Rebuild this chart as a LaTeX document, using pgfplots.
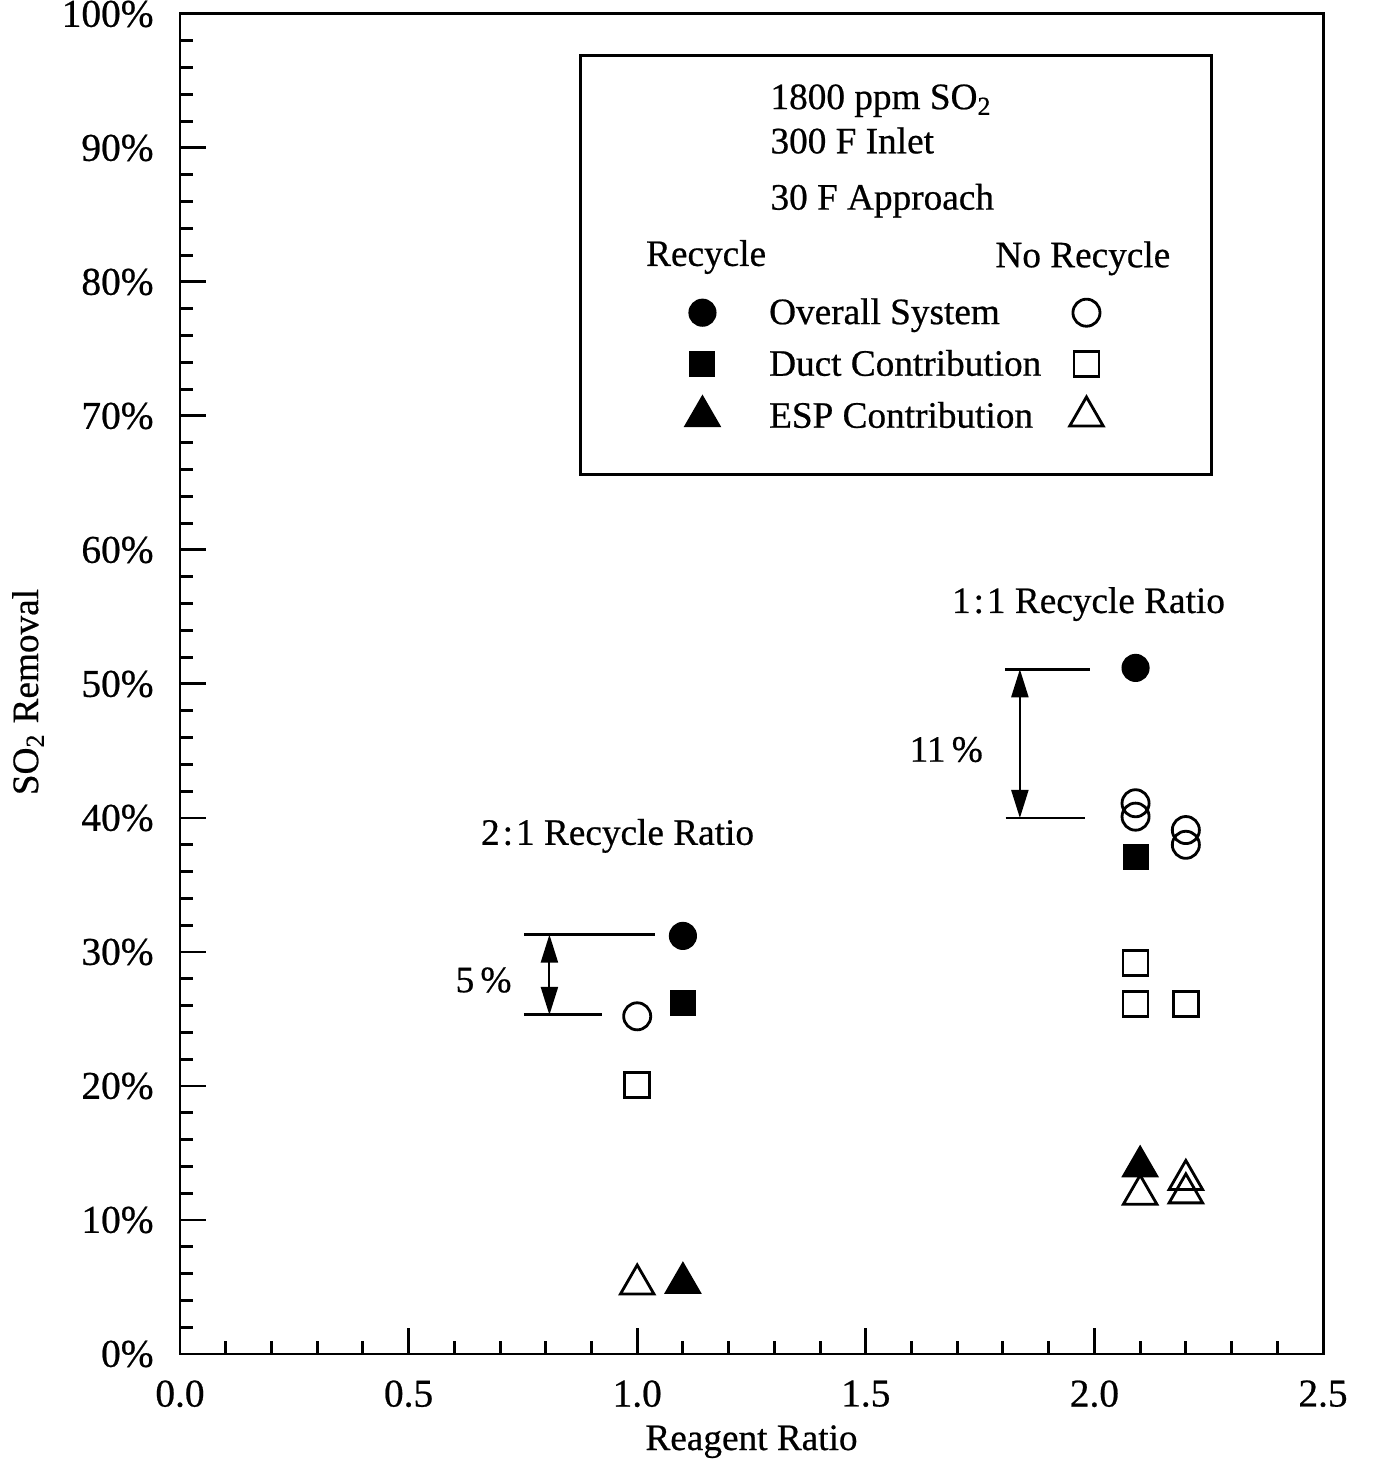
\documentclass[border=0pt]{standalone}
\usepackage{fontspec}
\setmainfont{Liberation Serif}[FakeBold=0.6]
\usepackage{pgfplots}
\pgfplotsset{compat=1.18}
\usetikzlibrary{arrows.meta}

\pgfplotstableread{
x y
1.10 31.2
2.09 51.2
}\recOverall
\pgfplotstableread{
x y
1.00 25.2
2.09 41.1
2.09 40.1
2.20 39.1
2.20 38.0
}\norecOverall
\pgfplotstableread{
x y
1.10 26.2
2.09 37.1
}\recDuct
\pgfplotstableread{
x y
1.00 20.1
2.09 29.2
2.09 26.1
2.20 26.1
}\norecDuct
\pgfplotstableread{
x y
1.10 5.3
2.10 14.0
}\recESP
\pgfplotstableread{
x y
1.00 5.2
2.10 11.9
2.20 13.0
2.20 12.0
}\norecESP

\begin{document}
\begin{tikzpicture}[font=\fontsize{10.6}{12.6}\selectfont]
\begin{axis}[
  name=ax,
  scale only axis,
  width=11.43cm, height=13.40cm,
  xmin=0, xmax=2.5, ymin=0, ymax=100,
  axis line style={line width=0.85pt},
  xtick={0,0.5,1,1.5,2,2.5},
  minor xtick={0.1,0.2,0.3,0.4,0.6,0.7,0.8,0.9,1.1,1.2,1.3,1.4,1.6,1.7,1.8,1.9,2.1,2.2,2.3,2.4},
  ytick={0,10,20,30,40,50,60,70,80,90,100},
  minor ytick={2,4,...,98},
  xticklabels={0.0,0.5,1.0,1.5,2.0,2.5},
  yticklabels={0\%,10\%,20\%,30\%,40\%,50\%,60\%,70\%,80\%,90\%,100\%},
  tick pos=left, tick align=inside,
  major tick length=2.6mm, minor tick length=1.3mm,
  every tick/.style={black, line width=0.85pt},
  tick label style={font=\fontsize{11.2}{13}\selectfont},
  xticklabel style={yshift=-1.4mm},
  yticklabel style={xshift=-1.4mm},
  xlabel={Reagent Ratio},
  ylabel={SO\textsubscript{2} Removal},
  xlabel style={at={(axis description cs:0.5,0)}, anchor=base, yshift=-9.6mm},
  ylabel style={at={(axis description cs:-0.1242,0.494)}, anchor=base},
  legend columns=2,
  legend image code/.code={%
    \path[draw=none,fill=none] (-0.2cm,-0.2cm) rectangle (0.667cm,0.2cm);
    \draw[#1] plot coordinates {(0cm,0cm)};},
  legend cell align=left,
  legend style={draw=none, fill=none, inner sep=0pt, outer sep=0pt,
    row sep=0.116cm, column sep=0pt,
    at={(axis cs:1.099,79.2)}, anchor=north west,
    nodes={inner sep=0pt, anchor=west, text height=0.75em, text depth=0.1em}},
]
\addplot[only marks, mark=*, mark size=3.8pt, mark options={fill=black, draw=black}] table {\recOverall};
\addlegendentry{\makebox[2.973cm][l]{Overall System}}
\addplot[only marks, mark=o, mark size=3.85pt, mark options={line width=0.8pt, draw=black}] table {\norecOverall};
\addlegendentry{\mbox{}}
\addplot[only marks, mark=square*, mark size=3.5pt, mark options={fill=black, draw=black}] table {\recDuct};
\addlegendentry{\makebox[2.973cm][l]{Duct Contribution}}
\addplot[only marks, mark=square, mark size=3.55pt, mark options={line width=0.8pt, draw=black}] table {\norecDuct};
\addlegendentry{\mbox{}}
\addplot[only marks, mark=triangle*, mark size=5.8pt, mark options={fill=black, draw=black}] table {\recESP};
\addlegendentry{\makebox[2.973cm][l]{ESP Contribution}}
\addplot[only marks, mark=triangle, mark size=5.5pt, mark options={line width=0.8pt, draw=black}] table {\norecESP};
\addlegendentry{\mbox{}}

% legend frame and header
\draw[line width=0.85pt] (axis cs:0.876,65.6) rectangle (axis cs:2.257,96.9);
\node[anchor=base west, inner sep=0pt] at (axis cs:1.29,92.9) {1800 ppm SO\textsubscript{2}};
\node[anchor=base west, inner sep=0pt] at (axis cs:1.29,89.6) {300 F Inlet};
\node[anchor=base west, inner sep=0pt] at (axis cs:1.29,85.4) {30 F Approach};
\node[anchor=base west, inner sep=0pt] at (axis cs:1.018,81.2) {Recycle};
\node[anchor=base west, inner sep=0pt] at (axis cs:1.782,81.1) {No Recycle};

% annotations
\node[anchor=base, inner sep=0pt] at (axis cs:0.957,38.0) {2\kern0.08em:\kern0.08em1 Recycle Ratio};
\draw[line width=0.85pt] (axis cs:0.753,31.3) -- (axis cs:1.04,31.3);
\draw[line width=0.85pt] (axis cs:0.752,25.3) -- (axis cs:0.922,25.3);
\draw[line width=0.6pt, {Triangle[length=2.8mm,width=1.7mm]}-{Triangle[length=2.8mm,width=1.7mm]}] (axis cs:0.808,31.3) -- (axis cs:0.808,25.3);
\node[anchor=base, inner sep=0pt] at (axis cs:0.664,27.0) {5\,\%};

\node[anchor=base, inner sep=0pt] at (axis cs:1.987,55.3) {1\kern0.08em:\kern0.08em1 Recycle Ratio};
\draw[line width=0.85pt] (axis cs:1.805,51.1) -- (axis cs:1.99,51.1);
\draw[line width=0.85pt] (axis cs:1.806,40.0) -- (axis cs:1.98,40.0);
\draw[line width=0.6pt, {Triangle[length=2.8mm,width=1.7mm]}-{Triangle[length=2.8mm,width=1.7mm]}] (axis cs:1.837,51.1) -- (axis cs:1.837,40.0);
\node[anchor=base, inner sep=0pt] at (axis cs:1.676,44.2) {11\,\%};
\end{axis}
\pgfresetboundingbox
\path[use as bounding box] ([shift={(-1.80cm,-1.10cm)}]ax.south west) rectangle ([shift={(12.01cm,13.54cm)}]ax.south west);
\end{tikzpicture}
\end{document}
